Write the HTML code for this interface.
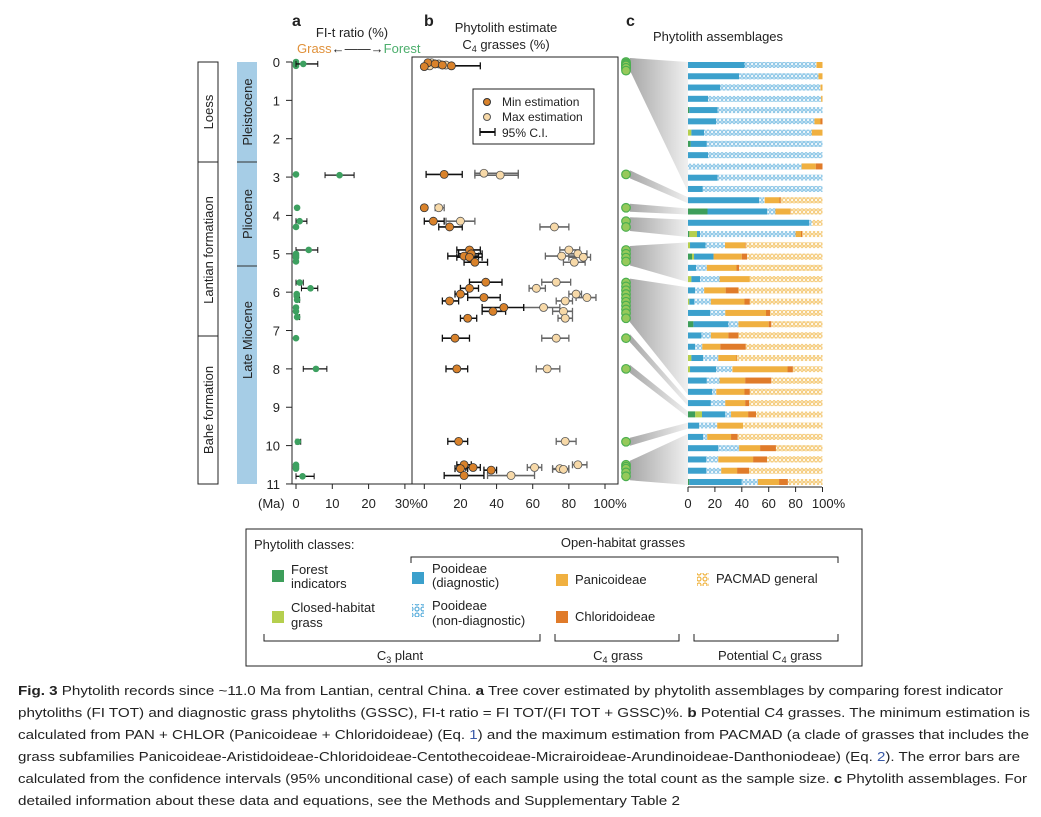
<!DOCTYPE html>
<html><head><meta charset="utf-8"><style>
body{margin:0;background:#fff;width:1041px;height:812px;overflow:hidden}
svg{font-family:"Liberation Sans",sans-serif}
</style></head><body>
<svg id="fig" width="1041" height="812" viewBox="0 0 1041 812" xmlns="http://www.w3.org/2000/svg">
<defs>
<pattern id="pBlue" width="4" height="4" patternUnits="userSpaceOnUse"><rect width="4" height="4" fill="#fff"/><circle cx="2" cy="2" r="1.3" fill="none" stroke="#5aaedc" stroke-width="0.9"/></pattern>
<pattern id="pYel" width="4" height="4" patternUnits="userSpaceOnUse"><rect width="4" height="4" fill="#fff"/><circle cx="2" cy="2" r="1.3" fill="none" stroke="#f0b440" stroke-width="0.9"/></pattern>
<pattern id="lBlue" width="6" height="6" patternUnits="userSpaceOnUse"><rect width="6" height="6" fill="#fff"/><circle cx="3" cy="3" r="2" fill="none" stroke="#5aaedc" stroke-width="1.2"/></pattern>
<pattern id="lYel" width="6" height="6" patternUnits="userSpaceOnUse"><rect width="6" height="6" fill="#fff"/><circle cx="3" cy="3" r="2" fill="none" stroke="#f0b440" stroke-width="1.2"/></pattern>
<linearGradient id="wg" x1="0" x2="1" y1="0" y2="0"><stop offset="0" stop-color="#a8a8a8"/><stop offset="1" stop-color="#f0f0f0"/></linearGradient>
</defs>

<!-- stratigraphy -->
<g fill="none" stroke="#222" stroke-width="1">
<rect x="198" y="62" width="20" height="100"/>
<rect x="198" y="162" width="20" height="174"/>
<line x1="198" y1="336" x2="218" y2="336" stroke-dasharray="2,1"/>
<polyline points="198,336 198,484 218,484 218,336"/>
</g>
<g font-size="13" fill="#222">
<text transform="translate(213,112) rotate(-90)" text-anchor="middle">Loess</text>
<text transform="translate(213,250) rotate(-90)" text-anchor="middle">Lantian formatiaon</text>
<text transform="translate(213,410) rotate(-90)" text-anchor="middle">Bahe formation</text>
</g>
<g>
<rect x="237" y="62" width="20" height="422" fill="#a6cde6"/>
<line x1="237" y1="162" x2="257" y2="162" stroke="#333"/>
<line x1="237" y1="266" x2="257" y2="266" stroke="#333"/>
<g font-size="13" fill="#222" text-anchor="middle">
<text transform="translate(252,112) rotate(-90)">Pleistocene</text>
<text transform="translate(252,214) rotate(-90)">Pliocene</text>
<text transform="translate(252,340) rotate(-90)">Late Miocene</text>
</g></g>

<!-- headers -->
<g fill="#222">
<text x="292" y="26" font-size="16" font-weight="bold">a</text>
<text x="352" y="37" font-size="13" text-anchor="middle">FI-t ratio (%)</text>
<text x="297" y="53" font-size="13"><tspan fill="#e0913a">Grass</tspan><tspan fill="#222">←——→</tspan><tspan fill="#4cae6c">Forest</tspan></text>
<text x="424" y="26" font-size="16" font-weight="bold">b</text>
<text x="506" y="32" font-size="13" text-anchor="middle">Phytolith estimate</text>
<text x="506" y="49" font-size="13" text-anchor="middle">C<tspan font-size="9" dy="3">4</tspan><tspan dy="-3"> grasses (%)</tspan></text>
<text x="626" y="26" font-size="16" font-weight="bold">c</text>
<text x="718" y="41" font-size="13" text-anchor="middle">Phytolith assemblages</text>
</g>

<g id="plots"></g>

<!-- legend box -->
<g font-size="13" fill="#222">
<rect x="246" y="529" width="616" height="137" fill="none" stroke="#222"/>
<text x="254" y="549">Phytolith classes:</text>
<text x="623" y="547" text-anchor="middle">Open-habitat grasses</text>
<polyline points="411,563 411,557 838,557 838,563" fill="none" stroke="#222"/>
<g><rect x="272" y="570" width="12" height="12" fill="#3d9e5a"/><text x="291" y="574">Forest</text><text x="291" y="588">indicators</text></g>
<g><rect x="272" y="611" width="12" height="12" fill="#b5cf4e"/><text x="291" y="612">Closed-habitat</text><text x="291" y="627">grass</text></g>
<g><rect x="412" y="572" width="12" height="12" fill="#3ba0cc"/><text x="432" y="573">Pooideae</text><text x="432" y="587">(diagnostic)</text></g>
<g><rect x="412" y="604" width="12" height="13" fill="url(#lBlue)"/><text x="432" y="610">Pooideae</text><text x="432" y="625">(non-diagnostic)</text></g>
<g><rect x="556" y="574" width="12" height="12" fill="#f0b040"/><text x="575" y="584">Panicoideae</text></g>
<g><rect x="556" y="611" width="12" height="12" fill="#e07b2a"/><text x="575" y="621">Chloridoideae</text></g>
<g><rect x="697" y="573" width="12" height="13" fill="url(#lYel)"/><text x="716" y="583">PACMAD general</text></g>
<g fill="none" stroke="#222"><polyline points="264,634 264,641 540,641 540,634"/><polyline points="555,634 555,641 679,641 679,634"/><polyline points="694,634 694,641 838,641 838,634"/></g>
<text x="400" y="660" text-anchor="middle">C<tspan font-size="9" dy="3">3</tspan><tspan dy="-3"> plant</tspan></text>
<text x="618" y="660" text-anchor="middle">C<tspan font-size="9" dy="3">4</tspan><tspan dy="-3"> grass</tspan></text>
<text x="770" y="660" text-anchor="middle">Potential C<tspan font-size="9" dy="3">4</tspan><tspan dy="-3"> grass</tspan></text>
</g>

<!-- caption -->
<g font-size="13" fill="#222">
<text x="18" y="695" textLength="985" lengthAdjust="spacingAndGlyphs"><tspan font-weight="bold">Fig. 3</tspan> Phytolith records since ~11.0 Ma from Lantian, central China. <tspan font-weight="bold">a</tspan> Tree cover estimated by phytolith assemblages by comparing forest indicator</text>
<text x="18" y="717" textLength="1012" lengthAdjust="spacingAndGlyphs">phytoliths (FI TOT) and diagnostic grass phytoliths (GSSC), FI-t ratio = FI TOT/(FI TOT + GSSC)%. <tspan font-weight="bold">b</tspan> Potential C4 grasses. The minimum estimation is</text>
<text x="18" y="739" textLength="1011" lengthAdjust="spacingAndGlyphs">calculated from PAN + CHLOR (Panicoideae + Chloridoideae) (Eq. <tspan fill="#3a5aa8">1</tspan>) and the maximum estimation from PACMAD (a clade of grasses that includes the</text>
<text x="18" y="761" textLength="1002" lengthAdjust="spacingAndGlyphs">grass subfamilies Panicoideae-Aristidoideae-Chloridoideae-Centothecoideae-Micrairoideae-Arundinoideae-Danthoniodeae) (Eq. <tspan fill="#3a5aa8">2</tspan>). The error bars are</text>
<text x="18" y="783" textLength="1009" lengthAdjust="spacingAndGlyphs">calculated from the confidence intervals (95% unconditional case) of each sample using the total count as the sample size. <tspan font-weight="bold">c</tspan> Phytolith assemblages. For</text>
<text x="18" y="805" textLength="662" lengthAdjust="spacingAndGlyphs">detailed information about these data and equations, see the Methods and Supplementary Table 2</text>
</g>
</svg>
<script>
// ---- Panel a data (FI-t ratio %) ----
const aAge = [0,0.05,0.1,0.05,2.93,2.95,3.8,4.15,4.3,4.9,5.0,5.05,5.1,5.2,5.75,5.9,6.05,6.1,6.2,6.4,6.5,6.65,7.2,8.0,9.9,10.5,10.55,10.6,10.8];
const aVal = [0,0,0,2,0,12,0.3,1,0,3.5,0,0,0,0,1,4,0.2,0.2,0.3,0,0,0.3,0,5.5,0.5,0,0,0,1.8];
const aLo  = [null,null,null,0,null,8,null,0,null,0,null,null,null,null,0,1.5,null,null,0,null,null,0,null,2,0,null,null,null,0];
const aHi  = [null,null,null,6,null,16,null,3,null,6,null,null,null,null,2,6,null,null,1,null,null,1,null,8.5,1.3,null,null,null,5];
// ---- Panel b data (C4 grass %) ----
const bAge  = [0.02,0.05,0.08,0.1,0.12,2.93,3.8,4.15,4.3,4.9,5.0,5.06,5.09,5.22,5.74,5.9,6.05,6.14,6.23,6.4,6.5,6.68,7.2,8.0,9.89,10.5,10.57,10.6,10.64,10.78];
const bMin  = [2,6,10,15,0,11,0,5,14,25,26,22,25,28,34,25,20,33,14,44,38,24,17,18,19,22,27,20,37,22];
const bMinLo= [null,null,null,0,null,1,null,0,8,18,19,13,18,22,25,20,17,24,10,32,32,20,10,12,13,18,23,17,33,11];
const bMinHi= [null,null,null,31,null,21,null,11,21,31,32,30,32,35,43,30,24,42,19,55,45,29,25,24,24,26,31,24,40,33];
const bMaxAge=[0.02,0.05,0.08,0.1,2.9,2.95,3.8,4.15,4.3,4.9,5.0,5.06,5.09,5.22,5.74,5.9,6.05,6.14,6.23,6.4,6.5,6.68,7.2,8.0,9.89,10.5,10.57,10.6,10.62,10.78];
const bMax  = [4,8,12,3,33,42,8,20,72,80,85,76,88,83,73,62,84,90,78,66,77,78,73,68,78,85,61,75,77,48];
const bMaxLo= [null,null,null,null,28,28,6,12,64,75,80,67,80,77,65,58,80,84,73,55,71,74,65,62,73,82,57,71,71,35];
const bMaxHi= [null,null,null,null,52,52,11,28,80,86,90,84,92,89,81,67,87,95,82,75,82,82,80,75,84,90,65,80,80,61];
// ---- Panel c data: cumulative boundaries (%) per sample ----
const cForest = [0,0,0,0,1,0,0,2,0,0,0,0,0,14.5,0,1,0,3,0,0,0,0,0,4,0,0,0,0,0,0,0,5.4,0,0,0,0,0,1];
const cClosed = [0,0,0,0,1,0,2.5,2,0,0,0,0,0,14.5,0,6.7,1.5,4.5,0,2.5,0,1,0,4,0,0,2.5,1.5,0,0,0,10.4,0,0,0,0,0,1];
const cPooD   = [42,38,24,15,22,21,12,14,15,0,22,11,53,59,90,9,13,19,6,9,5.4,4.7,16.5,30,10,5.4,11.4,21,14,18,17,27.7,8.4,11.4,22.5,13.6,13.6,40];
const cPooN   = [95.5,97,98.5,99,100,94,92,100,100,84.5,100,100,57,65,92,80,27.5,19,14,23.5,12,17,27.7,37.5,17,10.6,22.5,33,23.5,21,27.7,32,21.7,14.3,38,22.5,24.7,52];
const cPani   = [100,100,100,100,100,98.5,100,100,100,95,100,100,68,76,92,84,42.5,40,36,46,28,42,58,60,30,24,36,74,42.5,42,42.5,44.7,41,32,53.6,48.4,36.5,67.7];
const cChlo   = [100,100,100,100,100,100,100,100,100,100,100,100,69,76.3,92,85,43,44,38,46,37.5,46,61,62,37.5,43,36.5,78,62,46,45.5,50.6,41,37,65.4,58.8,45.4,74.3];
const cAge    = [0,0.01,0.02,0.03,0.04,0.05,0.06,0.07,0.08,0.09,0.1,0.12,2.93,3.8,4.15,4.3,4.9,5.0,5.1,5.2,5.75,5.85,5.95,6.05,6.15,6.25,6.35,6.45,6.55,6.68,7.2,8.0,9.9,10.5,10.55,10.6,10.7,10.8];
const groupStart = [0,12,13,14,16,20,30,31,32,33];
const groupEnd   = [11,12,13,15,19,29,30,31,32,37];
const ageTicks = [0,1,2,3,4,5,6,7,8,9,10,11];
const aTicks = [0,10,20,30];
const bTicks = [0,20,40,60,80,100];
const cTicks = [0,20,40,60,80,100];

const NS='http://www.w3.org/2000/svg';
const root=document.getElementById('plots');
function mk(tag,attrs,parent){const e=document.createElementNS(NS,tag);for(const k in attrs)e.setAttribute(k,attrs[k]);(parent||root).appendChild(e);return e;}
const yAge=a=>62+a*38.36;
const xA=v=>296+v*3.63;
const xB=v=>424.3+v*1.807;
const xC=v=>688+v*1.345;
const barY=i=>65+i*11.27;

// Panel a axes
const ga=mk('g',{});


mk('line',{x1:292,y1:62,x2:292,y2:484,stroke:'#222'},ga);
mk('line',{x1:292,y1:484,x2:412,y2:484,stroke:'#222'},ga);
ageTicks.forEach(t=>{
  mk('line',{x1:286,y1:yAge(t),x2:292,y2:yAge(t),stroke:'#222'},ga);
  const tx=mk('text',{x:280,y:yAge(t)+5,'font-size':13,'text-anchor':'end',fill:'#222'},ga);tx.textContent=t;
  
  
});
const ma=mk('text',{x:258,y:508,'font-size':13,fill:'#222'},ga);ma.textContent='(Ma)';
aTicks.forEach(t=>{
  mk('line',{x1:xA(t),y1:484,x2:xA(t),y2:489,stroke:'#222'},ga);
  const tx=mk('text',{x:xA(t)+(t==30?3:0),y:508,'font-size':13,'text-anchor':'middle',fill:'#222'},ga);tx.textContent=t+(t==30?'%':'');
  
  
});
aAge.forEach((ag,i)=>{
  const y=yAge(ag);
  if(aLo[i]!==null){mk('line',{x1:xA(aLo[i]),y1:y,x2:xA(aHi[i]),y2:y,stroke:'#111','stroke-width':1.3});
    mk('line',{x1:xA(aLo[i]),y1:y-3,x2:xA(aLo[i]),y2:y+3,stroke:'#111'});mk('line',{x1:xA(aHi[i]),y1:y-3,x2:xA(aHi[i]),y2:y+3,stroke:'#111'});}
  const c=mk('circle',{cx:xA(aVal[i]),cy:y,r:3.3,fill:'#3da060'});
  
  
});

// Panel b
const gb=mk('g',{});


mk('rect',{x:412,y:57,width:206,height:427,fill:'none',stroke:'#222'},gb);
bTicks.forEach(t=>{
  mk('line',{x1:xB(t),y1:484,x2:xB(t),y2:489,stroke:'#222'},gb);
  const tx=mk('text',{x:xB(t)+(t==100?5:0),y:508,'font-size':13,'text-anchor':'middle',fill:'#222'},gb);tx.textContent=t+(t==100?'%':'');
  
  
});
function eb(lo,hi,y,col){mk('line',{x1:xB(lo),y1:y,x2:xB(hi),y2:y,stroke:col,'stroke-width':1.6});
 mk('line',{x1:xB(lo),y1:y-3.5,x2:xB(lo),y2:y+3.5,stroke:col,'stroke-width':1.3});mk('line',{x1:xB(hi),y1:y-3.5,x2:xB(hi),y2:y+3.5,stroke:col,'stroke-width':1.3});}
bMaxAge.forEach((ag,i)=>{if(bMaxLo[i]!==null)eb(bMaxLo[i],bMaxHi[i],yAge(ag),'#666');});
bAge.forEach((ag,i)=>{if(bMinLo[i]!==null)eb(bMinLo[i],bMinHi[i],yAge(ag),'#111');});
bMaxAge.forEach((ag,i)=>{const c=mk('circle',{cx:xB(bMax[i]),cy:yAge(ag),r:4,fill:'#f7d9a8',stroke:'#555','stroke-width':0.8});
  
  });
bAge.forEach((ag,i)=>{const c=mk('circle',{cx:xB(bMin[i]),cy:yAge(ag),r:4,fill:'#d9822b',stroke:'#333','stroke-width':0.8});
  
  });
const lg=mk('g',{'font-size':12,fill:'#222'});


mk('rect',{x:473,y:89,width:121,height:55,fill:'#fff',stroke:'#222'},lg);
mk('circle',{cx:487,cy:102,r:3.5,fill:'#d9822b',stroke:'#333'},lg);
mk('circle',{cx:487,cy:117,r:3.5,fill:'#f7d9a8',stroke:'#555'},lg);
mk('line',{x1:480,y1:132,x2:495,y2:132,stroke:'#111','stroke-width':2},lg);
mk('line',{x1:480,y1:128,x2:480,y2:136,stroke:'#111','stroke-width':1.3},lg);mk('line',{x1:495,y1:128,x2:495,y2:136,stroke:'#111','stroke-width':1.3},lg);
[['Min estimation',106],['Max estimation',121],['95% C.I.',137]].forEach(([s,y])=>{const t=mk('text',{x:502,y:y},lg);t.textContent=s;});

// Panel c wedges
groupStart.forEach((s,g)=>{
  const e=groupEnd[g];
  const y1=yAge(cAge[s])-4, y2=yAge(cAge[e])+4;
  const p=mk('polygon',{points:`630,${y1} 688,${barY(s)-3} 688,${barY(e)+3} 630,${y2}`,fill:'url(#wg)'});
  
  
});
cAge.forEach((ag,i)=>{const c=mk('circle',{cx:626,cy:yAge(ag)+(ag<0.2?(i%3)*2:0),r:4.3,fill:'#96c95a',stroke:'#4caf50','stroke-width':1.2});
  
  });
// Panel c bars
const fills=['#3d9e5a','#b5cf4e','#3ba0cc','url(#pBlue)','#f0b040','#e07b2a','url(#pYel)'];
cAge.forEach((_,i)=>{
  const b=[0,cForest[i],cClosed[i],cPooD[i],cPooN[i],cPani[i],cChlo[i],100];
  const bg=mk('g',{});
  
  
  for(let k=0;k<7;k++){const w=b[k+1]-b[k];if(w>0)mk('rect',{x:xC(b[k]),y:barY(i)-3,width:w*1.345,height:6,fill:fills[k]},bg);}
});
const gc=mk('g',{});


mk('line',{x1:688,y1:487,x2:822,y2:487,stroke:'#222'},gc);
cTicks.forEach(t=>{mk('line',{x1:xC(t),y1:487,x2:xC(t),y2:492,stroke:'#222'},gc);
 const tx=mk('text',{x:xC(t)+(t==100?6:0),y:508,'font-size':13,'text-anchor':'middle',fill:'#222'},gc);tx.textContent=t+(t==100?'%':'');});
</script>
</body></html>
